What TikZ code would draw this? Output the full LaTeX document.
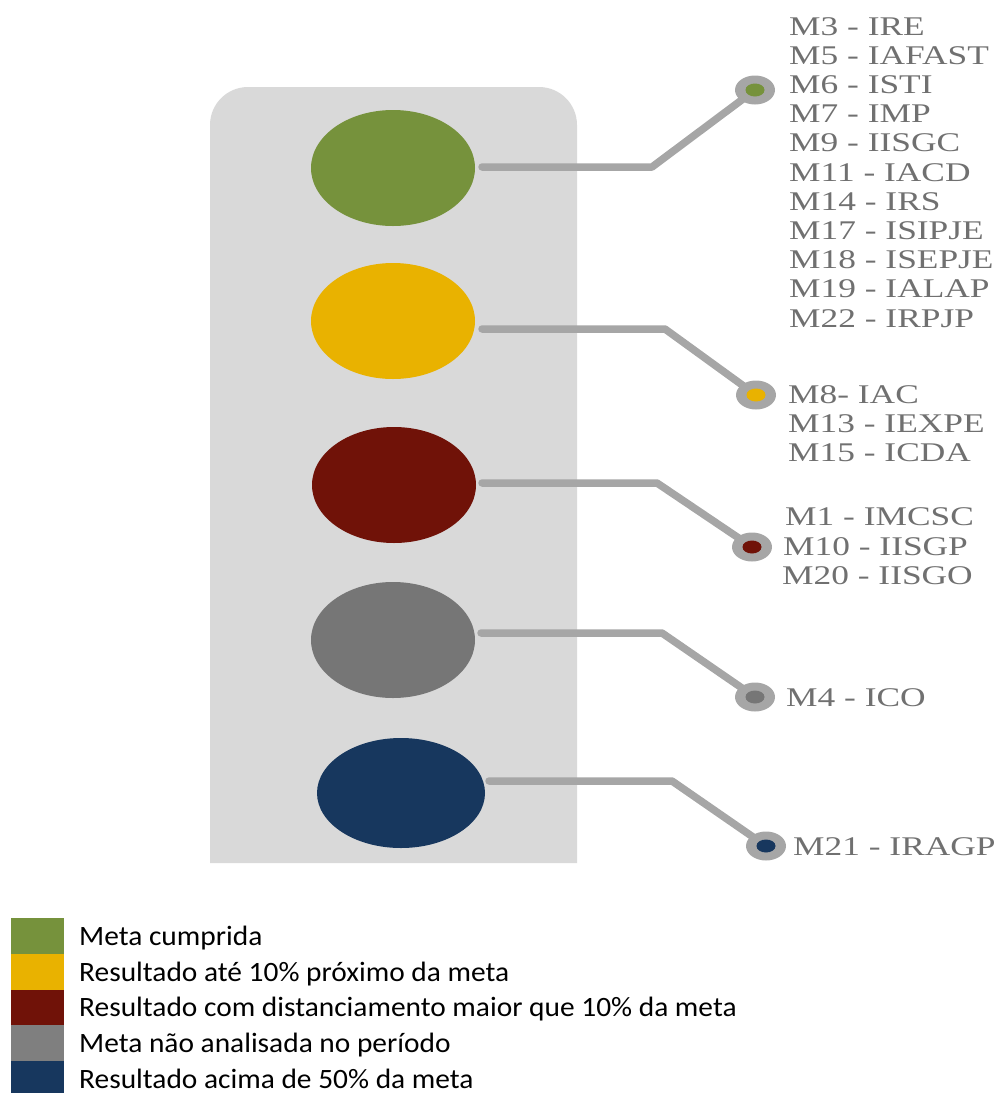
\documentclass[tikz,border=0pt]{standalone}
\usepackage{fontspec}
\usetikzlibrary{shapes.geometric}
\newfontfamily\mserif[FakeStretch=1.31]{Liberation Serif}
\newfontfamily\legfont[FakeStretch=1.05]{Carlito}
\definecolor{cgreen}{HTML}{76923C}
\definecolor{cyellow}{HTML}{E9B200}
\definecolor{cred}{HTML}{701208}
\definecolor{cgray}{HTML}{767676}
\definecolor{clgray}{HTML}{7F7F7F}
\definecolor{cblue}{HTML}{17375E}
\definecolor{cpanel}{HTML}{D9D9D9}
\definecolor{cconn}{HTML}{A6A6A6}
\definecolor{ctext}{HTML}{707070}
\tikzset{
  blob/.style={ellipse, inner sep=0, minimum width=164, minimum height=116, fill=#1},
  conn/.style={draw=cconn, line width=7.5, line cap=round, line join=round},
  dotouter/.style={ellipse, inner sep=0, minimum width=40, minimum height=29, fill=cconn},
  dotinner/.style={ellipse, inner sep=0, minimum width=19, minimum height=13, fill=#1},
  mlabel/.style={anchor=base west, inner sep=0, text=ctext, font=\fontsize{27}{29}\selectfont\mserif},
  legbox/.style={minimum width=53, minimum height=36, inner sep=0, fill=#1, anchor=north west},
  legtext/.style={anchor=base west, inner sep=0, text=black, font=\fontsize{28}{30}\selectfont\legfont},
}
\begin{document}
\begin{tikzpicture}[x=1pt,y=-1pt]
\useasboundingbox (0,0) rectangle (996,1093);
% panel
\fill[cpanel, rounded corners=38] (210,863) -- (210,87) -- (577,87) -- (577,863);
% ellipses
\node[blob=cgreen]  (eg) at (393,168) {};
\node[blob=cyellow] (ey) at (393,321) {};
\node[blob=cred]    (er) at (394,485) {};
\node[blob=cgray]   (ea) at (393,640) {};
\node[blob=cblue, minimum width=168, minimum height=110] (eb) at (401,793) {};
% connector anchor points
\coordinate (gs) at (482,167); \coordinate (gk) at (652,167); \coordinate (gd) at (755,90);
\coordinate (ys) at (482,329); \coordinate (yk) at (665,329); \coordinate (yd) at (756,395);
\coordinate (rs) at (482,483); \coordinate (rk) at (657,483); \coordinate (rd) at (752,547);
\coordinate (as) at (481,633); \coordinate (ak) at (662,633); \coordinate (ad) at (755,697);
\coordinate (bs) at (489,781); \coordinate (bk) at (672,781); \coordinate (bd) at (766,846);
\draw[conn] (gs) -- (gk) -- (gd);
\draw[conn] (ys) -- (yk) -- (yd);
\draw[conn] (rs) -- (rk) -- (rd);
\draw[conn] (as) -- (ak) -- (ad);
\draw[conn] (bs) -- (bk) -- (bd);
% dots
\node[dotouter] (gdo) at (gd) {}; \node[dotinner=cgreen]  (gdi) at (gd) {};
\node[dotouter] (ydo) at (yd) {}; \node[dotinner=cyellow] (ydi) at (yd) {};
\node[dotouter] (rdo) at (rd) {}; \node[dotinner=cred]    (rdi) at (rd) {};
\node[dotouter] (ado) at (ad) {}; \node[dotinner=cgray]   (adi) at (ad) {};
\node[dotouter] (bdo) at (bd) {}; \node[dotinner=cblue]   (bdi) at (bd) {};
% labels group 1
\foreach \t [count=\i from 0] in {M3 - IRE, M5 - IAFAST, M6 - ISTI, M7 - IMP, M9 - IISGC, M11 - IACD, M14 - IRS, M17 - ISIPJE, M18 - ISEPJE, M19 - IALAP, M22 - IRPJP}
  \node[mlabel] (g\i) at (789,35+29.2*\i) {\t};
% group 2
\node[mlabel] (y0) at (788,403) {M8- IAC};
\node[mlabel] (y1) at (788,432) {M13 - IEXPE};
\node[mlabel] (y2) at (788,461) {M15 - ICDA};
% group 3
\node[mlabel] (r0) at (785,525) {M1 - IMCSC};
\node[mlabel] (r1) at (783,555) {M10 - IISGP};
\node[mlabel] (r2) at (782,584) {M20 - IISGO};
% group 4, 5
\node[mlabel] (a0) at (786,706) {M4 - ICO};
\node[mlabel] (b0) at (793,855) {M21 - IRAGP};
% legend
\node[legbox=cgreen]  (l1) at (11,918) {};
\node[legbox=cyellow] (l2) at (11,954) {};
\node[legbox=cred]    (l3) at (11,990) {};
\node[legbox=clgray]  (l4) at (11,1025) {};
\node[legbox=cblue]   (l5) at (11,1061) {};
\node[legtext] (t1) at (79,945) {Meta cumprida};
\node[legtext] (t2) at (79,981) {Resultado até 10\% próximo da meta};
\node[legtext] (t3) at (79,1016) {Resultado com distanciamento maior que 10\% da meta};
\node[legtext] (t4) at (79,1052) {Meta não analisada no período};
\node[legtext] (t5) at (79,1088) {Resultado acima de 50\% da meta};
\end{tikzpicture}
\end{document}
